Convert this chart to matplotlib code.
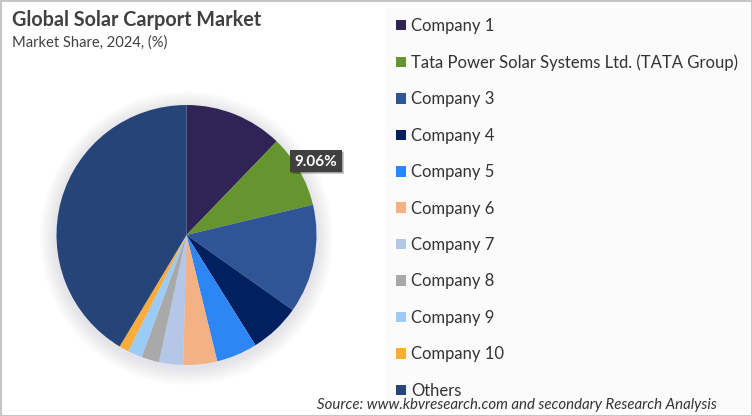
import matplotlib
matplotlib.use('Agg')
import matplotlib.pyplot as plt
from matplotlib.patches import Rectangle, Circle

plt.rcParams['font.family'] = ['Lato', 'DejaVu Sans']

# values
companies = ['Company 1', 'Tata Power Solar Systems Ltd. (TATA Group)', 'Company 3', 'Company 4',
             'Company 5', 'Company 6', 'Company 7', 'Company 8', 'Company 9', 'Company 10', 'Others']
shares = [12.2, 9.06, 13.54, 6.3, 5.1, 4.2, 3.0, 2.2, 1.8, 1.2, 41.4]
colors = ['#2f2455', '#66952f', '#2f5597', '#002060', '#2e86f5', '#f4b183',
          '#b4c7e7', '#a9a9a9', '#9dcbf8', '#fbad3c', '#264478']
callout = '9.06%'

W, H = 752, 416
fig = plt.figure(figsize=(W / 100, H / 100), dpi=100, facecolor='white')

# full figure axes in pixels for the panel, shadow and texts
bg = fig.add_axes([0, 0, 1, 1], zorder=0)
bg.set_xlim(0, W)
bg.set_ylim(H, 0)
bg.axis('off')
bg.add_patch(Rectangle((385, 8), 365, 402, fc='#fbfbfb', ec='none'))

# soft pie shadow
for i in range(14):
    bg.add_patch(Circle((186.5, 238), 130 + 17 - i * 1.2, fc='#5a6070', ec='none', alpha=0.008))

bg.add_patch(Rectangle((0.5, 0.5), W - 1, H - 1, fc='none', ec='#c6c6c6', lw=1.5))

# pie
cx, cy, r = 186.5, 235, 130
pie_ax = fig.add_axes([(cx - r) / W, 1 - (cy + r) / H, 2 * r / W, 2 * r / H], zorder=1)
wedges, _ = pie_ax.pie(shares, colors=colors, startangle=90, counterclock=False, radius=1)
pie_ax.set_xlim(-1, 1)
pie_ax.set_ylim(-1, 1)

top = fig.add_axes([0, 0, 1, 1], zorder=2)
top.set_xlim(0, W)
top.set_ylim(H, 0)
top.axis('off')
top.patch.set_alpha(0)

# titles
top.text(12, 20, 'Global Solar Carport Market', fontsize=14.2, fontweight='bold', color='#404040', va='center')
top.text(12, 43, 'Market Share, 2024, (%)', fontsize=10.6, color='#404040', va='center')

# callout with shadow
for i in range(4):
    top.add_patch(Rectangle((291 + i * 0.5, 151 + i * 0.5), 53 - i, 23 - i, fc='black', ec='none', alpha=0.1))
top.add_patch(Rectangle((290, 150), 52, 22, fc='#404040', ec='none'))
top.text(316, 161.5, callout, fontsize=11, fontweight='bold', color='white', ha='center', va='center')

# legend
leg = top.legend(wedges, companies, loc='upper left', bbox_to_anchor=(396.5 / W, 1 - 18 / H),
                 bbox_transform=fig.transFigure, frameon=False, fontsize=12,
                 labelspacing=1.225, handlelength=0.6, handleheight=0.6, handletextpad=0.3,
                 borderpad=0, borderaxespad=0, labelcolor='#333333')

# source
top.text(717, 405, 'Source: www.kbvresearch.com and secondary Research Analysis', fontsize=10.8,
         style='italic', color='#333333', ha='right', va='center')

fig.savefig('out.png', dpi=100)
